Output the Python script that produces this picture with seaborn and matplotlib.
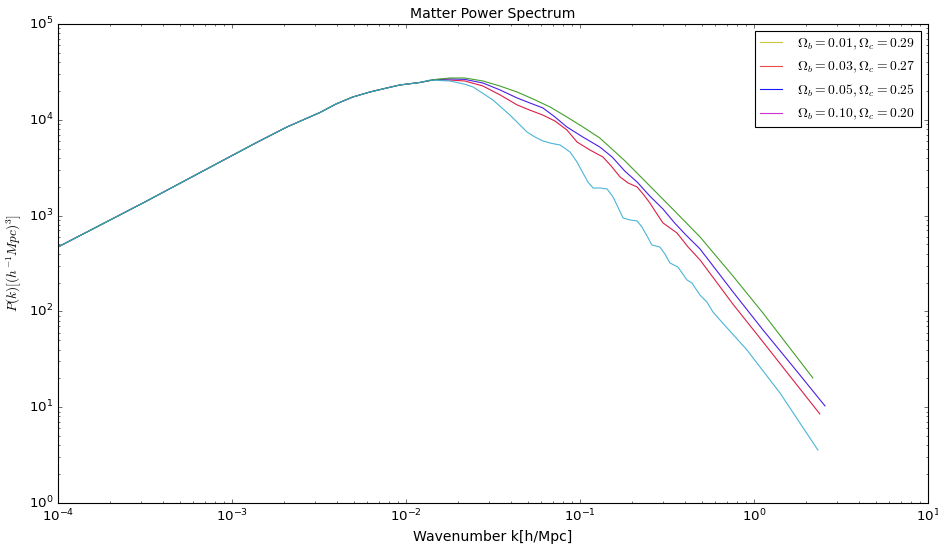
import numpy as np
import pandas as pd
import matplotlib
matplotlib.use("Agg")
import matplotlib.pyplot as plt
from matplotlib.lines import Line2D
import seaborn as sns

# shared large-scale part (all models overlap here)
k_common = [1e-4, 3.16e-4, 8.53e-4, 1.37e-3, 2.07e-3, 3.2e-3, 3.96e-3, 4.95e-3, 6.21e-3,
            7.78e-3, 9.25e-3, 0.0120]
p_common = [470, 1387, 3625, 5730, 8410, 11900, 14600, 17300, 19500,
            21500, 23100, 24500]

# Omega_b = 0.01
k_b01 = [0.0147, 0.0179, 0.0218, 0.0277, 0.0347, 0.0435, 0.0537, 0.0673, 0.0841, 0.104, 0.130,
         0.1815, 0.252, 0.35, 0.490, 0.757, 1.127, 1.59, 2.18]
p_b01 = [26300, 27300, 27300, 25400, 22500, 19500, 16500, 13600, 10700, 8410, 6460,
         3720, 2040, 1117, 598, 234, 96, 42.5, 20.2]

# Omega_b = 0.03
k_b03 = [0.0147, 0.0179, 0.0218, 0.0277, 0.0347, 0.0435, 0.0516, 0.0612, 0.0718, 0.0841, 0.0962,
         0.114, 0.1355, 0.151, 0.170, 0.189, 0.213, 0.233, 0.252, 0.277, 0.300, 0.361, 0.418,
         0.490, 0.757, 1.127, 1.59, 2.39]
p_b03 = [26300, 26000, 25400, 22500, 18200, 14300, 12600, 11200, 9710, 7830, 5860,
         4840, 4090, 3300, 2530, 2190, 1990, 1640, 1356, 1040, 838, 658, 470,
         344, 119, 48, 21.7, 8.5]

# Omega_b = 0.05
k_b05 = [0.0147, 0.0179, 0.0218, 0.0277, 0.0347, 0.0435, 0.0516, 0.0612, 0.0718, 0.0841, 0.104,
         0.130, 0.153, 0.1815, 0.213, 0.252, 0.300, 0.35, 0.401, 0.490, 0.757, 1.127, 1.72, 2.56]
p_b05 = [26300, 26700, 26400, 24200, 20500, 16900, 14960, 13300, 10700, 8410, 6600,
         5200, 4090, 2900, 2240, 1600, 1170, 838, 643, 448, 160, 64, 25.1, 10.3]

# Omega_b = 0.10
k_b10 = [0.01374, 0.0179, 0.0218, 0.0243, 0.0316, 0.0396, 0.0496, 0.0551, 0.0612, 0.0690, 0.0768,
         0.0877, 0.0962, 0.104, 0.111, 0.119, 0.130, 0.143, 0.155, 0.165, 0.177, 0.194, 0.213,
         0.227, 0.243, 0.259, 0.288, 0.308, 0.329, 0.366, 0.386, 0.412, 0.440, 0.464, 0.490,
         0.537, 0.581, 0.638, 0.912, 1.41, 2.33]
p_b10 = [26000, 25400, 23500, 22000, 16100, 11200, 7460, 6610, 6010, 5660, 5460,
         4610, 3620, 2790, 2240, 1940, 1940, 1900, 1560, 1230, 944, 900, 879,
         760, 612, 493, 470, 397, 320, 290, 252, 213, 198, 171, 148,
         125, 98.6, 81.3, 39.5, 14.1, 3.57]

labels = [r"$\Omega_b=0.01,\Omega_c=0.29$", r"$\Omega_b=0.03,\Omega_c=0.27$",
          r"$\Omega_b=0.05,\Omega_c=0.25$", r"$\Omega_b=0.10,\Omega_c=0.20$"]
legend_colors = ["#c8c83a", "#f04a4a", "#1a1aff", "#cc33cc"]
line_colors = ["#44a02c", "#dc1e46", "#4b1ee6", "#2aa8d0"]

tails = [(k_b01, p_b01), (k_b03, p_b03), (k_b05, p_b05), (k_b10, p_b10)]
frames = []
for lab, (kt, pt) in zip(labels, tails):
    frames.append(pd.DataFrame({"k": k_common + kt, "P": p_common + pt, "model": lab}))
df = pd.concat(frames, ignore_index=True)

plt.style.use("classic")
plt.rcParams["figure.facecolor"] = "white"
plt.rcParams["savefig.facecolor"] = "white"
plt.rcParams["mathtext.fontset"] = "cm"

fig, ax = plt.subplots(figsize=(938 / 80, 545 / 80), dpi=80)
fig.subplots_adjust(left=0.0618, right=0.9893, bottom=0.0771, top=0.956)

# draw order chosen so the overlapping part blends like the original
order = [1, 2, 0, 3]
alphas = {0: 1.0, 1: 1.0, 2: 1.0, 3: 0.85}
for i in order:
    sub = df[df["model"] == labels[i]]
    sns.lineplot(data=sub, x="k", y="P", ax=ax, color=line_colors[i], lw=1.0,
                 alpha=alphas[i], estimator=None, sort=False, legend=False)

ax.set_xscale("log")
ax.set_yscale("log")
ax.set_xlim(1e-4, 1e1)
ax.set_ylim(1e0, 1e5)
ax.set_title("Matter Power Spectrum", fontsize=12.6)
ax.set_xlabel("Wavenumber k[h/Mpc]", fontsize=12.6)
ax.set_ylabel(r"$P(k)[(h^{-1}Mpc)^3]$", fontsize=12)

handles = [Line2D([], [], color=c, lw=1.0) for c in legend_colors]
ax.legend(handles, labels, loc="upper right", fontsize=12.3, numpoints=1,
          handlelength=1.6, handletextpad=1.1, labelspacing=0.55,
          borderaxespad=0.5, frameon=True)

fig.savefig("out.png", dpi=80)
